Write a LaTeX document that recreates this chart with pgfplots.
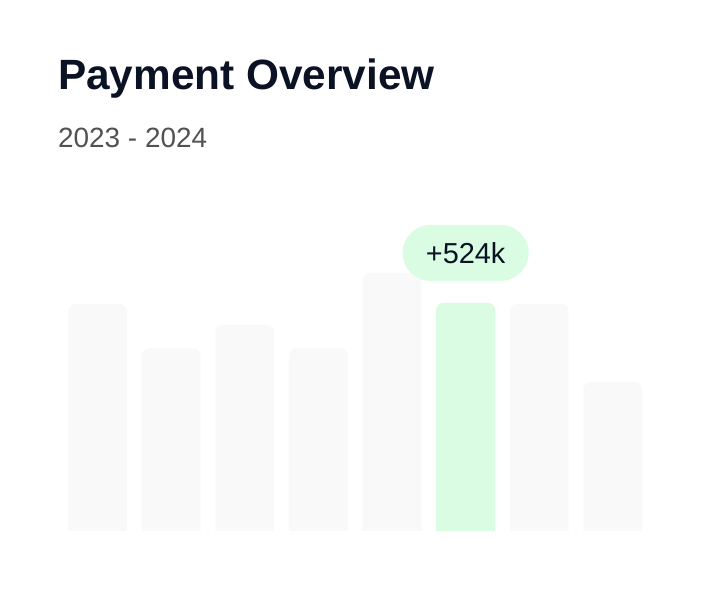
\documentclass[border=0pt]{standalone}
\usepackage{pgfplots}
\pgfplotsset{compat=1.18}
\usepackage{fontspec}
\setmainfont{Liberation Sans}
\definecolor{titlec}{HTML}{0B1224}
\definecolor{subc}{HTML}{525252}
\definecolor{barc}{HTML}{F9F9F9}
\definecolor{greenc}{HTML}{DAFCE2}
\begin{document}
\begin{tikzpicture}[x=1bp,y=1bp]
\fill[white] (0,0) rectangle (714,603);
\node[anchor=base west, inner sep=0, font=\fontsize{42.5}{50}\selectfont\bfseries, text=titlec] at (58,513) {Payment Overview};
\node[anchor=base west, inner sep=0, font=\fontsize{28}{34}\selectfont, text=subc] at (58,455) {2023 - 2024};
\begin{axis}[
  at={(60.7bp,61.1bp)}, anchor=south west,
  scale only axis, width=589bp, height=332.9bp,
  xmin=-0.5, xmax=7.5, ymin=0, ymax=730,
  hide axis, ybar, bar width=0.8, bar shift=0pt,
]
\addplot[fill=barc, draw=none, rounded corners=8bp] coordinates {(0,522) (1,425) (2,476) (3,425) (4,590) (6,522) (7,351)};
\addplot[fill=greenc, draw=none, rounded corners=7bp] coordinates {(5,524)};
\fill[white] (axis cs:-0.5,-1) rectangle (axis cs:7.5,24);
\coordinate (g) at (axis cs:5,524);
\end{axis}
\node[fill=greenc, rounded corners=28bp, minimum width=126bp, minimum height=56bp, inner sep=0, font=\fontsize{29}{34}\selectfont, text=titlec] at ([yshift=50bp]g) {+524k};
\end{tikzpicture}
\end{document}
